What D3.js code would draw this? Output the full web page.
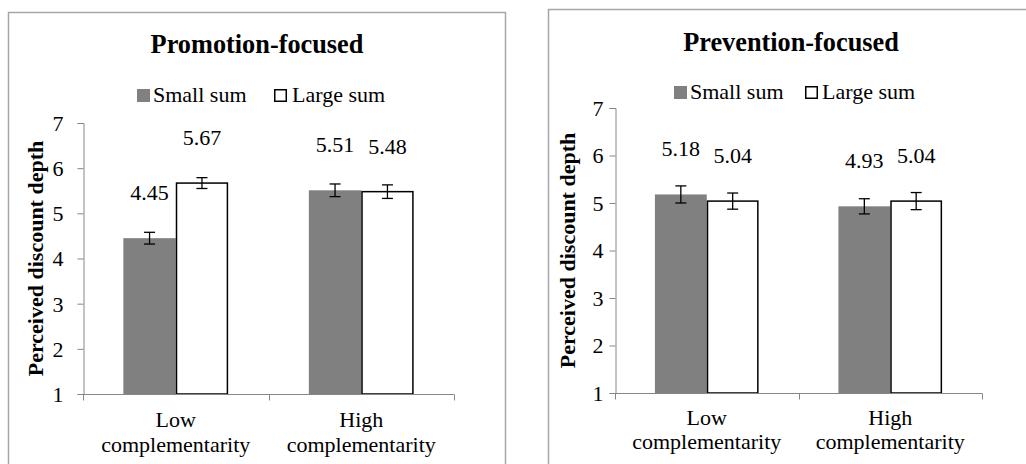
<!DOCTYPE html>
<html>
<head>
<meta charset="utf-8">
<script src="https://cdn.jsdelivr.net/npm/d3@7"></script>
<style>
  html, body { margin: 0; padding: 0; background: #fff; }
  svg { display: block; }
</style>
</head>
<body>
<svg id="chart" width="1026" height="464" font-family="'Liberation Serif', 'Times New Roman', 'DejaVu Serif', serif"></svg>
<script>
// ---- data ----
const categories = ["Low complementarity", "High complementarity"];
const seriesNames = ["Small sum", "Large sum"];
const yTicks = [1, 2, 3, 4, 5, 6, 7];

const promoTitle = "Promotion-focused";
const promoSmall = [4.45, 5.51];
const promoLarge = [5.67, 5.48];
const promoSmallErr = [0.13, 0.14];
const promoLargeErr = [0.12, 0.15];

const prevTitle = "Prevention-focused";
const prevSmall = [5.18, 4.93];
const prevLarge = [5.04, 5.04];
const prevSmallErr = [0.18, 0.16];
const prevLargeErr = [0.17, 0.18];

const yLabel = "Perceived discount depth";

// ---- layout ----
const FONT = "'Liberation Serif', 'Times New Roman', 'DejaVu Serif', serif";
const FS = "22px";
const panels = [
  {
    title: promoTitle, small: promoSmall, large: promoLarge, smallErr: promoSmallErr, largeErr: promoLargeErr,
    box: [8.5, 12.5, 505.5, 480], plot: { x0: 83, x1: 454, yTop: 123, yBot: 394 },
    titleX: 257, titleY: 53,
    legend: { sq1: 137, tx1: 153, sq2: 274, tx2: 292, base: 102 },
    yTitleX: 43, tickLabelEnd: 63,
    xl1: 427, xl2: 452
  },
  {
    title: prevTitle, small: prevSmall, large: prevLarge, smallErr: prevSmallErr, largeErr: prevLargeErr,
    box: [548.5, 9.5, 1040, 480], plot: { x0: 615, x1: 982, yTop: 108, yBot: 393 },
    titleX: 791, titleY: 51,
    legend: { sq1: 674, tx1: 690, sq2: 805, tx2: 822, base: 99 },
    yTitleX: 575, tickLabelEnd: 603,
    xl1: 425, xl2: 449
  }
];

const svg = d3.select("#chart");
const gray = "#808080";
const axisColor = "#868686";

panels.forEach(p => {
  const g = svg.append("g");
  g.append("rect")
    .attr("x", p.box[0]).attr("y", p.box[1])
    .attr("width", p.box[2] - p.box[0]).attr("height", p.box[3] - p.box[1])
    .attr("fill", "#fff").attr("stroke", "#a6a6a6").attr("stroke-width", 1.5);

  g.append("text").attr("x", p.titleX).attr("y", p.titleY)
    .attr("text-anchor", "middle").style("font-size", "26.3px").style("font-weight", "bold")
    .text(p.title);

  const L = p.legend;
  g.append("rect").attr("x", L.sq1).attr("y", L.base - 13).attr("width", 13).attr("height", 13)
    .attr("fill", gray);
  g.append("text").attr("x", L.tx1).attr("y", L.base).style("font-size", FS).text(seriesNames[0]);
  g.append("rect").attr("x", L.sq2 + 0.75).attr("y", L.base - 12.25).attr("width", 11.5).attr("height", 11.5)
    .attr("fill", "#fff").attr("stroke", "#000").attr("stroke-width", 1.5);
  g.append("text").attr("x", L.tx2).attr("y", L.base).style("font-size", FS).text(seriesNames[1]);

  const x0 = d3.scaleBand().domain(categories).range([p.plot.x0, p.plot.x1]).paddingInner(0).paddingOuter(0);
  const y = d3.scaleLinear().domain([1, 7]).range([p.plot.yBot, p.plot.yTop]);
  const groupFrac = 0.565;
  const x1 = d3.scaleBand().domain(seriesNames).range([0, x0.bandwidth() * groupFrac]);
  const groupOffset = x0.bandwidth() * (1 - groupFrac) / 2;

  const yAxis = d3.axisLeft(y).tickValues(yTicks).tickSize(6).tickFormat(d3.format("d"));
  const ya = g.append("g").attr("transform", `translate(${p.plot.x0 + 0.5},0)`).call(yAxis);
  ya.attr("font-family", null).attr("font-size", null);
  ya.select(".domain").attr("stroke", axisColor);
  ya.selectAll(".tick line").attr("stroke", axisColor);
  ya.selectAll(".tick text")
    .attr("x", p.tickLabelEnd - p.plot.x0)
    .attr("dy", "0.34em")
    .style("font-size", FS);

  g.append("text")
    .attr("transform", `translate(${p.yTitleX},${(p.plot.yTop + p.plot.yBot) / 2}) rotate(-90)`)
    .attr("text-anchor", "middle").style("font-size", "22px").style("font-weight", "bold")
    .text(yLabel);

  const rows = categories.map((c, i) => ({
    cat: c,
    vals: [
      { s: seriesNames[0], v: p.small[i], e: p.smallErr[i] },
      { s: seriesNames[1], v: p.large[i], e: p.largeErr[i] }
    ]
  }));

  const grp = g.selectAll(".grp").data(rows).join("g")
    .attr("transform", d => `translate(${x0(d.cat) + groupOffset},0)`);

  grp.selectAll("rect.bar").data(d => d.vals).join("rect")
    .attr("class", "bar")
    .attr("x", d => x1(d.s) + (d.s === seriesNames[1] ? 0.75 : 0))
    .attr("width", d => x1.bandwidth() - (d.s === seriesNames[1] ? 1.5 : 0))
    .attr("y", d => y(d.v))
    .attr("height", d => y(1) - y(d.v))
    .attr("fill", d => d.s === seriesNames[0] ? gray : "#fff")
    .attr("stroke", d => d.s === seriesNames[0] ? "none" : "#000")
    .attr("stroke-width", 1.5);

  const xa = g.append("g").attr("transform", `translate(0,${p.plot.yBot + 0.5})`);
  xa.append("line").attr("x1", p.plot.x0).attr("x2", p.plot.x1).attr("stroke", axisColor);
  const edges = [p.plot.x0].concat(categories.map(c => x0(c) + x0.bandwidth()));
  xa.selectAll("line.tk").data(edges).join("line").attr("class", "tk")
    .attr("x1", d => Math.round(d) + 0.5).attr("x2", d => Math.round(d) + 0.5)
    .attr("y1", 0).attr("y2", 6).attr("stroke", axisColor);

  const eb = grp.selectAll("g.eb").data(d => d.vals).join("g").attr("class", "eb");
  const cx = d => x1(d.s) + x1.bandwidth() / 2;
  eb.append("line").attr("x1", cx).attr("x2", cx)
    .attr("y1", d => y(d.v + d.e)).attr("y2", d => y(d.v - d.e))
    .attr("stroke", "#000").attr("stroke-width", 1.3);
  eb.append("line").attr("x1", d => cx(d) - 5.5).attr("x2", d => cx(d) + 5.5)
    .attr("y1", d => y(d.v + d.e)).attr("y2", d => y(d.v + d.e))
    .attr("stroke", "#000").attr("stroke-width", 1.3);
  eb.append("line").attr("x1", d => cx(d) - 5.5).attr("x2", d => cx(d) + 5.5)
    .attr("y1", d => y(d.v - d.e)).attr("y2", d => y(d.v - d.e))
    .attr("stroke", "#000").attr("stroke-width", 1.3);

  grp.selectAll("text.lbl").data(d => d.vals).join("text").attr("class", "lbl")
    .attr("x", cx).attr("y", d => y(d.v) - 38)
    .attr("text-anchor", "middle").style("font-size", FS)
    .text(d => d3.format(".2f")(d.v));

  const xl = g.selectAll(".xl").data(categories).join("text").attr("class", "xl")
    .attr("text-anchor", "middle").style("font-size", FS);
  xl.each(function(c) {
    const parts = c.split(" ");
    const t = d3.select(this);
    const cxx = x0(c) + x0.bandwidth() / 2;
    t.append("tspan").attr("x", cxx).attr("y", p.xl1).text(parts[0]);
    t.append("tspan").attr("x", cxx).attr("y", p.xl2).text(parts[1]);
  });
});

svg.selectAll("text").style("font-family", FONT).attr("fill", "#000");
</script>
</body>
</html>
